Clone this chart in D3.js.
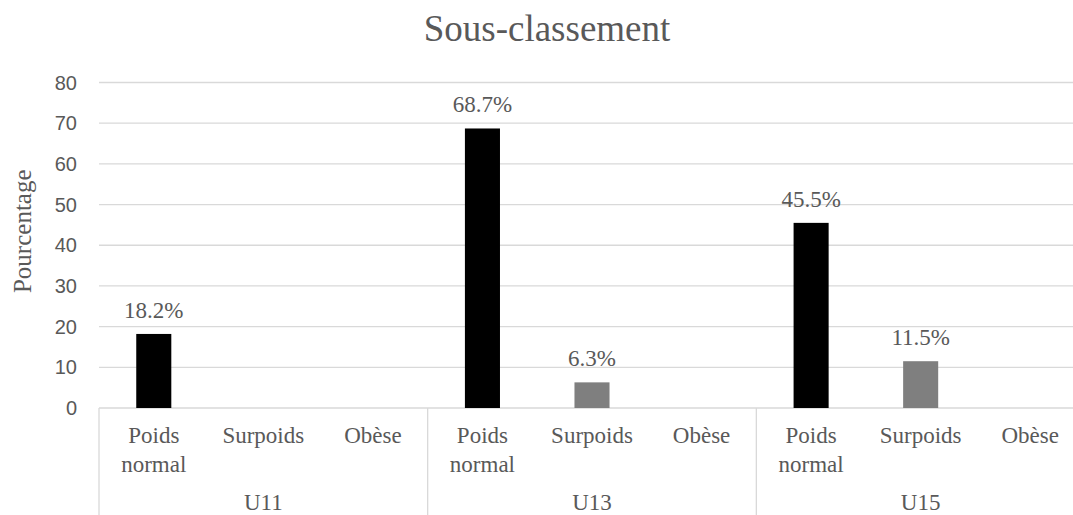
<!DOCTYPE html>
<html><head><meta charset="utf-8">
<script src="https://cdn.jsdelivr.net/npm/d3@7"></script>
<style>
html,body{margin:0;padding:0;background:#fff;overflow:hidden}
svg{display:block}
</style></head>
<body>
<svg id="chart" width="1073" height="515"></svg>
<script>
const title = "Sous-classement";
const yTitle = "Pourcentage";
const groups = ["U11", "U13", "U15"];
const categories = ["Poids normal", "Surpoids", "Obèse"];
const valuesU11 = [18.2, 0, 0];
const valuesU13 = [68.7, 6.3, 0];
const valuesU15 = [45.5, 11.5, 0];
const yTicks = [0, 10, 20, 30, 40, 50, 60, 70, 80];
const catColors = ["#000000", "#7f7f7f", "#a5a5a5"];

(function () {
const seriesByGroup = [valuesU11, valuesU13, valuesU15];
const data = [];
groups.forEach((g, gi) => categories.forEach((c, ci) => data.push({group: g, cat: c, ci, value: seriesByGroup[gi][ci]})));

const svg = d3.select("#chart");
const pLeft = 99, pRight = 1085, pTop = 82.5, pBottom = 408;
const serif = "'Liberation Serif','Times New Roman',serif";
const sans = "'Liberation Sans',Arial,sans-serif";
const textCol = "#595959";
const gridCol = "#d9d9d9";

const x0 = d3.scaleBand().domain(groups).range([pLeft, pRight]).padding(0);
const x1 = d3.scaleBand().domain(categories).range([0, x0.bandwidth()]).padding(0);
const y = d3.scaleLinear().domain([0, 80]).range([pBottom, pTop]);
const barW = x1.bandwidth() * 0.32;

// gridlines
svg.append("g").selectAll("line").data(yTicks).join("line")
  .attr("x1", pLeft).attr("x2", 1073)
  .attr("y1", d => y(d)).attr("y2", d => y(d))
  .attr("stroke", gridCol).attr("stroke-width", 1.3);

// y tick labels
svg.append("g").selectAll("text").data(yTicks).join("text")
  .attr("x", 77).attr("y", d => y(d)).attr("dy", "0.35em")
  .attr("text-anchor", "end").attr("font-family", sans).attr("font-size", 20)
  .attr("fill", textCol).text(d => d);

// group separators
const seps = groups.map(g => x0(g)).concat([pRight]);
svg.append("g").selectAll("line").data(seps).join("line")
  .attr("x1", d => d).attr("x2", d => d).attr("y1", pBottom).attr("y2", 515)
  .attr("stroke", gridCol).attr("stroke-width", 1.3);

// bars
svg.append("g").selectAll("rect").data(data.filter(d => d.value > 0)).join("rect")
  .attr("x", d => x0(d.group) + x1(d.cat) + (x1.bandwidth() - barW) / 2)
  .attr("y", d => y(d.value)).attr("width", barW)
  .attr("height", d => y(0) - y(d.value))
  .attr("fill", d => catColors[d.ci]);

// value labels
svg.append("g").selectAll("text").data(data.filter(d => d.value > 0)).join("text")
  .attr("x", d => x0(d.group) + x1(d.cat) + x1.bandwidth() / 2)
  .attr("y", d => y(d.value) - 16)
  .attr("text-anchor", "middle").attr("font-family", serif).attr("font-size", 23)
  .attr("fill", textCol).text(d => d.value.toFixed(1) + "%");

// category labels
const catLab = svg.append("g").selectAll("text").data(data).join("text")
  .attr("text-anchor", "middle").attr("font-family", serif).attr("font-size", 23)
  .attr("fill", textCol)
  .attr("y", pBottom + 35);
catLab.each(function(d) {
  const cx = x0(d.group) + x1(d.cat) + x1.bandwidth() / 2;
  d3.select(this).selectAll("tspan").data(d.cat.split(" ")).join("tspan")
    .attr("x", cx).attr("dy", (w, i) => i === 0 ? 0 : 28.7).text(w => w);
});

// group labels
svg.append("g").selectAll("text").data(groups).join("text")
  .attr("x", g => x0(g) + x0.bandwidth() / 2).attr("y", 510)
  .attr("text-anchor", "middle").attr("font-family", serif).attr("font-size", 23)
  .attr("fill", textCol).text(g => g);

// title
svg.append("text").attr("x", 547).attr("y", 41)
  .attr("text-anchor", "middle").attr("font-family", serif).attr("font-size", 37)
  .attr("fill", textCol).text(title);

// y axis title
svg.append("text").attr("transform", `translate(31,${(pTop + pBottom) / 2 - 14}) rotate(-90)`)
  .attr("text-anchor", "middle").attr("font-family", serif).attr("font-size", 25)
  .attr("fill", textCol).text(yTitle);
})();
</script>
</body></html>
